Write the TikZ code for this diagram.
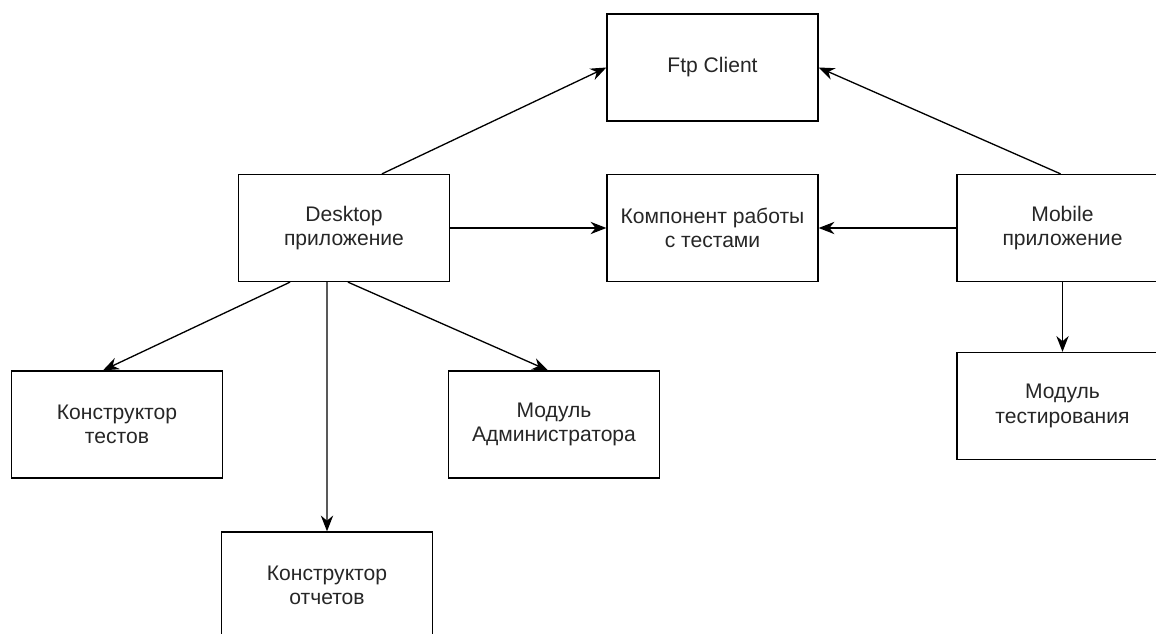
\documentclass[tikz,border=0pt]{standalone}
\usepackage{fontspec}
\setmainfont{Liberation Sans}
\usetikzlibrary{arrows.meta}
\begin{document}
\begin{tikzpicture}
[
    x=0.02cm, y=-0.02cm,
    block/.style={draw, line width=0.75pt, minimum width=4.22cm, minimum height=2.14cm, align=center, font=\fontsize{12}{14}\selectfont, text=black!85},
    link/.style={-{Stealth[length=9pt,width=7pt]}, line width=0.75pt},
]
\clip (0,0) rectangle (1156,634);
\node[block] (ftp) at (712.5,67.5) {Ftp Client};
\node[block] (desk) at (344,228) {Desktop\\приложение};
\node[block] (comp) at (712.5,228) {Компонент работы\\с тестами};
\node[block] (mob) at (1062.5,228) {Mobile\\приложение};
\node[block] (mtest) at (1062.5,406) {Модуль\\тестирования};
\node[block] (ktest) at (117,424.5) {Конструктор\\тестов};
\node[block] (madm) at (554,424.5) {Модуль\\Администратора};
\node[block] (kotch) at (327,585.5) {Конструктор\\отчетов};
\draw[link] ([xshift=0.76cm]desk.north) -- (ftp.west);
\draw[link] ([xshift=-0.04cm]mob.north) -- (ftp.east);
\draw[link] (desk.east) -- (comp.west);
\draw[link] (mob.west) -- (comp.east);
\draw[link] (mob.south) -- (mtest.north);
\draw[link] ([xshift=-1.08cm]desk.south) -- ([xshift=-0.28cm]ktest.north);
\draw[link] ([xshift=-0.34cm]desk.south) -- (kotch.north);
\draw[link] ([xshift=0.08cm]desk.south) -- ([xshift=-0.12cm]madm.north);
\end{tikzpicture}
\end{document}
